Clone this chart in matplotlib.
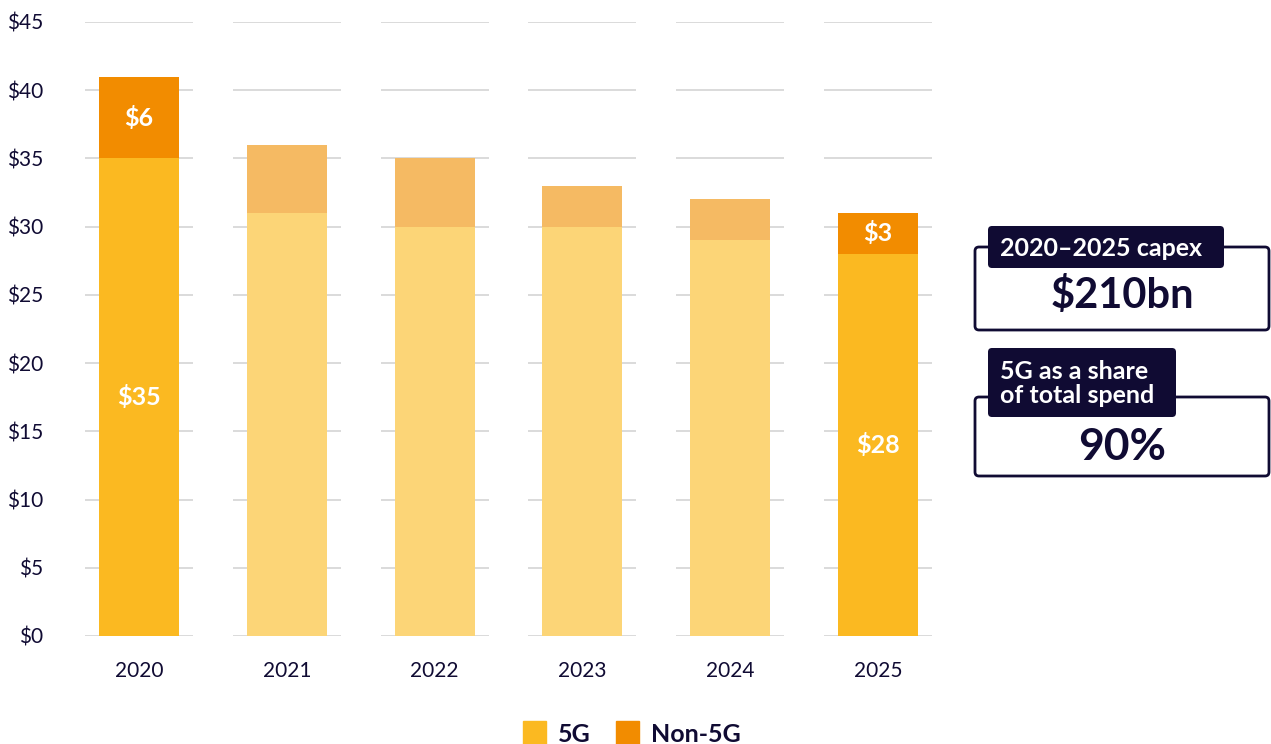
import numpy as np
import matplotlib.pyplot as plt
from matplotlib.patches import FancyBboxPatch, Rectangle

plt.rcParams['font.family'] = ['Lato', 'DejaVu Sans']

# Mobile capex by year, $bn
years = ["2020", "2021", "2022", "2023", "2024", "2025"]
capex_5g = [35, 31, 30, 30, 29, 28]
capex_non5g = [6, 5, 5, 3, 3, 3]
highlight = [True, False, False, False, False, True]

NAVY = "#100b33"
C_5G = "#fbb921"
C_NON = "#f28c00"
C_5G_LIGHT = "#fcd577"
C_NON_LIGHT = "#f5ba63"

fig = plt.figure(figsize=(12.71, 7.44), dpi=100)
ax = fig.add_axes([85 / 1271, 1 - 636 / 744, (932 - 85) / 1271, (636 - 22) / 744])

x = np.arange(len(years))
w = 0.54
c1 = [C_5G if h else C_5G_LIGHT for h in highlight]
c2 = [C_NON if h else C_NON_LIGHT for h in highlight]

# gridline segments per category, behind the bars
for i in x:
    ax.hlines(np.arange(0, 50, 5), i - 0.365, i + 0.365, color="#d4d4d4", lw=1.2, zorder=0)

ax.bar(x, capex_5g, width=w, color=c1, zorder=2)
ax.bar(x, capex_non5g, width=w, bottom=capex_5g, color=c2, zorder=2)

for i in x:
    if highlight[i]:
        ax.text(i, capex_5g[i] / 2, f"${capex_5g[i]}", ha="center", va="center",
                color="white", fontsize=18, fontweight="bold", zorder=3)
        ax.text(i, capex_5g[i] + capex_non5g[i] / 2, f"${capex_non5g[i]}", ha="center",
                va="center", color="white", fontsize=18, fontweight="bold", zorder=3)

ax.set_xlim(-0.365, len(years) - 1 + 0.365)
ax.set_ylim(0, 45)
ax.set_yticks(np.arange(0, 50, 5))
ax.set_yticklabels([f"${v}" for v in range(0, 50, 5)])
ax.set_xticks(x)
ax.set_xticklabels(years)
ax.tick_params(length=0, labelsize=15, colors=NAVY)
ax.tick_params(axis="y", pad=30)
ax.tick_params(axis="x", pad=18)
for s in ax.spines.values():
    s.set_visible(False)

# overlay in pixel coordinates for legend and callout boxes
ov = fig.add_axes([0, 0, 1, 1])
ov.set_xlim(0, 1271)
ov.set_ylim(744, 0)
ov.axis("off")
ov.patch.set_alpha(0)

ov.add_patch(Rectangle((523, 721), 23, 23, color=C_5G))
ov.text(558, 734, "5G", fontsize=18, fontweight="bold", color=NAVY, va="center")
ov.add_patch(Rectangle((616, 721), 23, 23, color=C_NON))
ov.text(651, 734, "Non-5G", fontsize=18, fontweight="bold", color=NAVY, va="center")


def callout(y0, y1, tab_x1, tab_y0, tab_y1, title, value, value_y, value_size):
    ov.add_patch(FancyBboxPatch((975, y0), 294, y1 - y0, boxstyle="round,pad=0,rounding_size=4",
                                fc="white", ec=NAVY, lw=2))
    ov.add_patch(FancyBboxPatch((988, tab_y0), tab_x1 - 988, tab_y1 - tab_y0,
                                boxstyle="round,pad=0,rounding_size=4", fc=NAVY, ec="none"))
    ov.text(1000, (tab_y0 + tab_y1) / 2 + 1, title, color="white", fontsize=18, fontweight="bold",
            va="center", ha="left", linespacing=1.05)
    ov.text(1122, value_y, value, color=NAVY, fontsize=value_size,
            fontweight="bold", ha="center", va="center")


callout(247, 330, 1224, 226, 268, "2020–2025 capex", "$210bn", 296, 30)
callout(397, 476, 1176, 348, 417, "5G as a share\nof total spend", "90%", 447, 32)

fig.savefig("out.png", dpi=100)
